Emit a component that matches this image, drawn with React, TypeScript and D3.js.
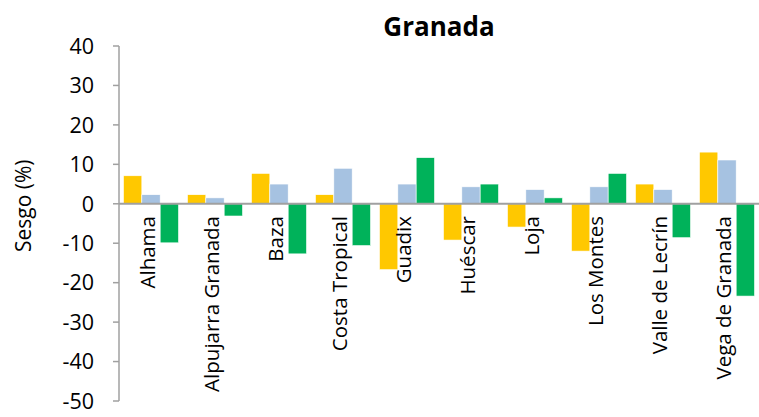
import React from "react";
import * as d3 from "d3";

const categories = ["Alhama", "Alpujarra Granada", "Baza", "Costa Tropical", "Guadix", "Huéscar", "Loja", "Los Montes", "Valle de Lecrín", "Vega de Granada"];
const seriesNames = ["S1", "S2", "S3"];
const serie1 = [7.1, 2.3, 7.7, 2.3, -16.7, -9.2, -5.9, -12.0, 5.0, 13.1];
const serie2 = [2.3, 1.5, 5.0, 9.0, 5.0, 4.3, 3.6, 4.3, 3.6, 11.1];
const serie3 = [-9.9, -3.1, -12.7, -10.6, 11.7, 5.0, 1.5, 7.7, -8.6, -23.4];
const yTicks = [40, 30, 20, 10, 0, -10, -20, -30, -40, -50];
const colors = ["#FFC800", "#A6C2E1", "#00B25A"];
const title = "Granada";
const yTitle = "Sesgo (%)";

export default function App() {
  const W = 759, H = 417;
  const left = 119, right = 759, top = 46, bottom = 401;
  const font = "'Open Sans', sans-serif";
  const y = d3.scaleLinear().domain([-50, 40]).range([bottom, top]);
  const x0 = d3.scaleBand().domain(categories).range([left, right]).paddingInner(0.14).paddingOuter(0.07);
  const x1 = d3.scaleBand().domain(seriesNames).range([0, x0.bandwidth()]);
  const data = [serie1, serie2, serie3];
  const xc = d3.scaleBand().domain(categories).range([left, right]);
  return (
    <svg width={W} height={H} style={{ position: "absolute", left: 0, top: 0, background: "#fff" }}>
      <text x={(left + right) / 2} y={36} textAnchor="middle" fontFamily={font} fontWeight="bold" fontSize={26}>{title}</text>
      <text transform={`translate(31,${y(0) + 2}) rotate(-90)`} textAnchor="middle" fontFamily={font} fontSize={21}>{yTitle}</text>
      {yTicks.map((t) => (
        <g key={t}>
          <line x1={left - 6} x2={left} y1={y(t)} y2={y(t)} stroke="#A0A0A0" strokeWidth={1.5} />
          <text x={94} y={y(t)} dy="0.36em" textAnchor="end" fontFamily={font} fontSize={21.5}>{t}</text>
        </g>
      ))}
      {categories.map((c, i) => (
        <g key={c} transform={`translate(${x0(c)},0)`}>
          {data.map((s, j) => {
            const v = s[i];
            return (
              <rect key={j} x={x1(seriesNames[j])} width={x1.bandwidth()} y={y(Math.max(0, v))} height={Math.abs(y(v) - y(0))} fill={colors[j]} stroke="#fff" strokeWidth={0.6} />
            );
          })}
        </g>
      ))}
      <line x1={left} x2={left} y1={top} y2={bottom} stroke="#A0A0A0" strokeWidth={1.5} />
      <line x1={left} x2={right} y1={y(0)} y2={y(0)} stroke="#A0A0A0" strokeWidth={2} />
      {categories.map((c) => (
        <text key={c} transform={`translate(${(xc(c) as number) + xc.bandwidth() / 2},216) rotate(-90)`} textAnchor="end" dy={4} fontFamily={font} fontSize={20.5}>{c}</text>
      ))}
    </svg>
  );
}
